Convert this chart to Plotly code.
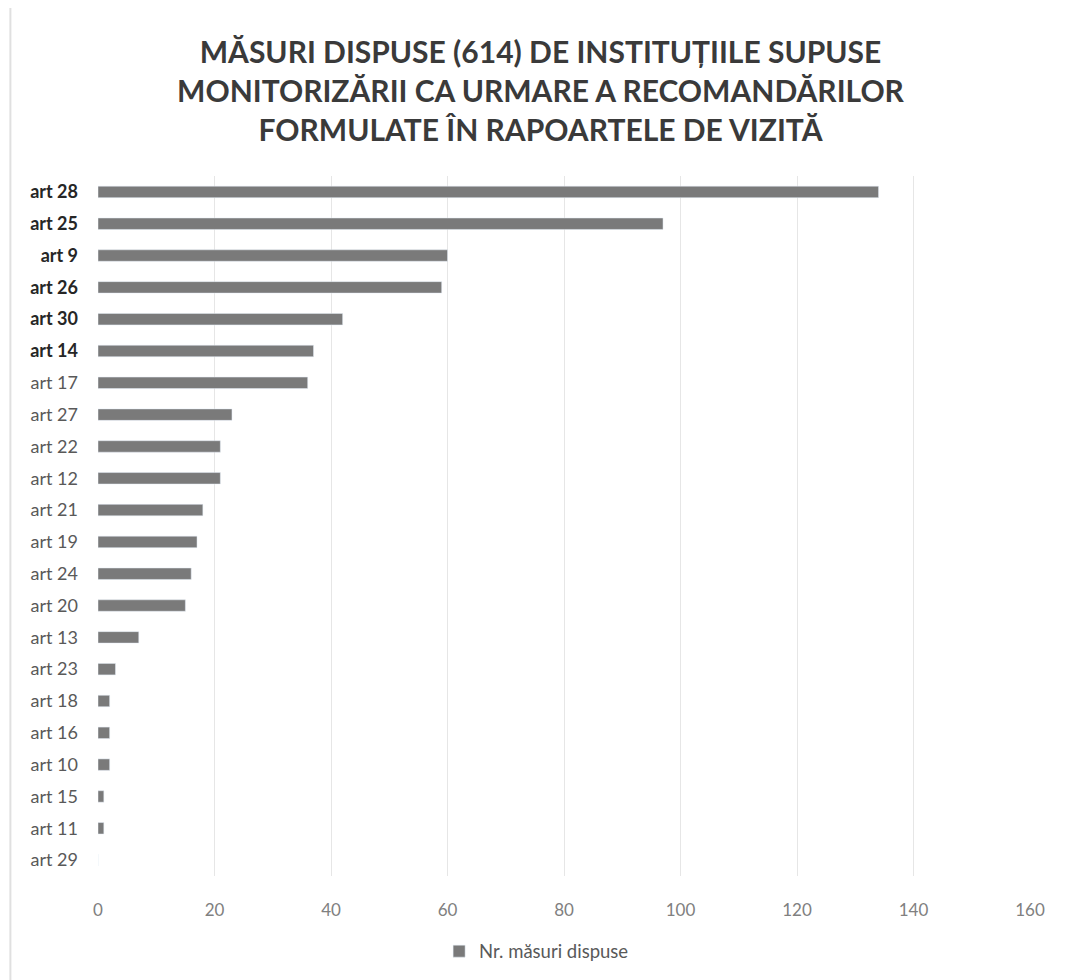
import plotly.graph_objects as go

# categories from top to bottom, as shown in the chart
articles = ["art 28", "art 25", "art 9", "art 26", "art 30", "art 14", "art 17",
            "art 27", "art 22", "art 12", "art 21", "art 19", "art 24", "art 20",
            "art 13", "art 23", "art 18", "art 16", "art 10", "art 15", "art 11",
            "art 29"]
masuri = [134, 97, 60, 59, 42, 37, 36, 23, 21, 21, 18, 17, 16, 15, 7, 3, 2, 2, 2, 1, 1, 0]
bold_labels = ["art 28", "art 25", "art 9", "art 26", "art 30", "art 14"]
x_ticks = [0, 20, 40, 60, 80, 100, 120, 140, 160]

title = ("<b>MĂSURI DISPUSE (614) DE INSTITUȚIILE SUPUSE<br>"
         "MONITORIZĂRII CA URMARE A RECOMANDĂRILOR<br>"
         "FORMULATE ÎN RAPOARTELE DE VIZITĂ</b>")

tick_text = [f"<b><span style='color:#262626'>{a}</span></b>" if a in bold_labels else a
             for a in articles]

fig = go.Figure(go.Bar(
    x=masuri,
    y=articles,
    orientation="h",
    name="Nr. măsuri dispuse",
    marker_color="#7a7a7a",
    width=0.36,
))

# the page body has an 8px margin, so margins are shifted by 8px
fig.update_layout(
    width=1065,
    height=980,
    paper_bgcolor="white",
    plot_bgcolor="white",
    font=dict(family="Lato, Open Sans, sans-serif", color="#595959", size=16),
    title=dict(text=title, x=0.5, xanchor="center", y=0.944, yanchor="top",
               font=dict(size=30, color="#3a3a3a", family="Lato, Open Sans, sans-serif")),
    margin=dict(l=90, r=43, t=168, b=112),
    showlegend=True,
    legend=dict(orientation="h", x=0.366, xanchor="left", y=-0.108, yanchor="middle",
                font=dict(size=18.5, color="#595959"), itemwidth=30),
    bargap=0.6,
)

fig.update_xaxes(range=[0, 160], tickvals=x_ticks, showgrid=True, gridcolor="#e6e6e6",
                 gridwidth=1, zeroline=False, showline=False, ticks="",
                 tickfont=dict(size=17, color="#808080"), ticklabelstandoff=22)
fig.update_yaxes(categoryorder="array", categoryarray=articles, autorange="reversed",
                 tickvals=articles, ticktext=tick_text, showgrid=False, ticks="",
                 tickfont=dict(size=18, color="#595959"), ticklabelstandoff=19,
                 automargin=False)

# faint frame edge at the left, like the scanned chart border
fig.add_shape(type="line", xref="paper", yref="paper", x0=-0.094, x1=-0.094, y0=-0.16, y1=1.25,
              line=dict(color="#e0e0e0", width=2))

fig.write_html("out.html")
